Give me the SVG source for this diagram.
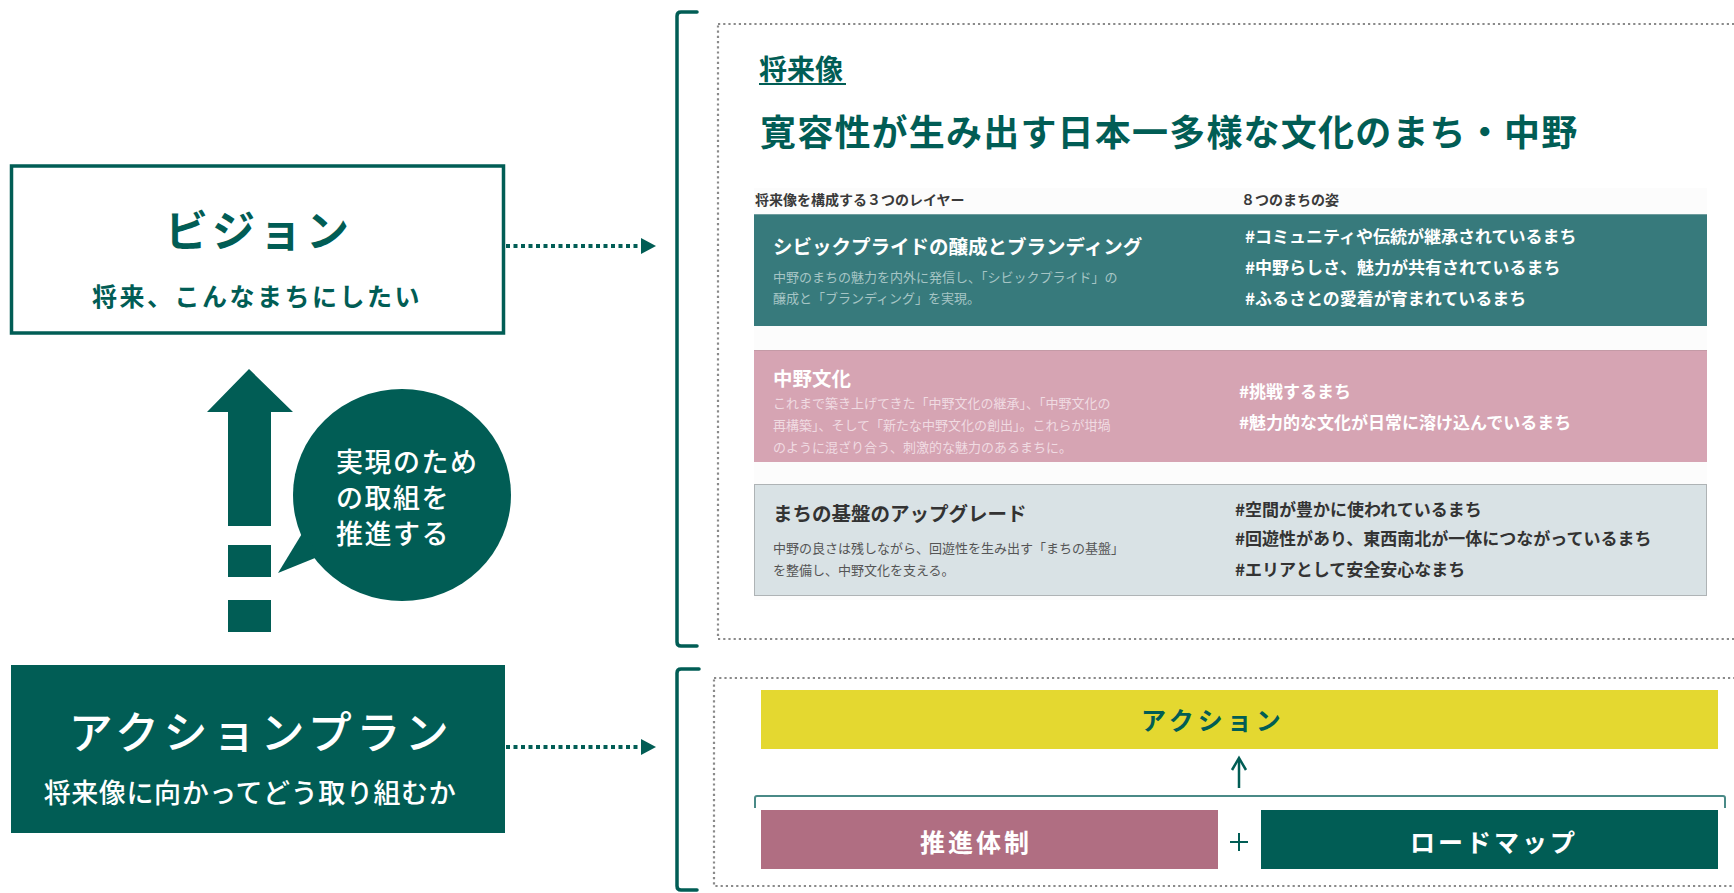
<svg xmlns="http://www.w3.org/2000/svg" width="1734" height="893" viewBox="0 0 1734 893">
<style>
text{font-family:"Noto Sans CJK JP","Noto Sans CJK SC",sans-serif;}
.teal{fill:#015d55;}
.w{fill:#ffffff;}
.b{font-weight:700;}
.m{font-weight:500;}
.dots{fill:none;stroke:#015d55;stroke-width:4;stroke-dasharray:4 3.5;}
.dbox{fill:none;stroke:#8a8a8a;stroke-width:2.2;stroke-dasharray:2.2 3;}
.brk{fill:none;stroke:#015d55;stroke-width:3.5;stroke-linecap:round;stroke-linejoin:round;}
.h{font-size:19.5px;font-weight:700;}
.d{font-size:13px;}
.tag{font-size:17px;font-weight:700;}
</style>
<rect width="1734" height="893" fill="#ffffff"/>

<g id="vision">
<rect x="11.5" y="166" width="492" height="167" fill="#ffffff" stroke="#015d55" stroke-width="3.5"/>
<text x="259" y="247" text-anchor="middle" class="teal b" font-size="43" letter-spacing="4">ビジョン</text>
<text x="257" y="306" text-anchor="middle" class="teal b" font-size="25" letter-spacing="2.5">将来、こんなまちにしたい</text>
</g>

<g id="action-plan">
<rect x="11" y="665" width="494" height="168" fill="#015d55"/>
<text x="261" y="749" text-anchor="middle" class="w m" font-size="44" letter-spacing="4.5">アクションプラン</text>
<text x="250" y="803" text-anchor="middle" class="w m" font-size="27" letter-spacing="0.6">将来像に向かってどう取り組むか</text>
</g>

<g id="up-arrow">
<polygon points="249,369 293,412 271,412 271,526 228,526 228,412 207,412" fill="#015d55"/>
<rect x="228" y="545" width="43" height="32" fill="#015d55"/>
<rect x="228" y="600" width="43" height="32" fill="#015d55"/>
</g>

<g id="bubble">
<ellipse cx="402" cy="495" rx="109" ry="106" fill="#015d55"/>
<polygon points="303,532 278,573 320,556" fill="#015d55"/>
<text x="336" y="472" class="w m" font-size="27" letter-spacing="1.5">実現のため</text>
<text x="336" y="508" class="w m" font-size="27" letter-spacing="1.5">の取組を</text>
<text x="336" y="544" class="w m" font-size="27" letter-spacing="1.5">推進する</text>
</g>

<g id="future-panel">
<path class="brk" d="M697,12 L681,12 Q677,12 677,16 L677,642 Q677,646 681,646 L697,646"/>
<rect class="dbox" x="718" y="24" width="1030" height="615"/>
<text x="759" y="80" class="teal b" font-size="28">将来像</text>
<line x1="759" y1="84" x2="846" y2="84" stroke="#015d55" stroke-width="2"/>
<text x="760" y="146" class="teal b" font-size="36" letter-spacing="1.2">寛容性が生み出す日本一多様な文化のまち・中野</text>
<rect x="754" y="188" width="953" height="412" fill="#fcfcfc"/>
<text x="755" y="205" font-size="14" font-weight="700" fill="#3a3a3a">将来像を構成する３つのレイヤー</text>
<text x="1241" y="205" font-size="14" font-weight="700" fill="#3a3a3a">８つのまちの姿</text>

<g id="layer-civic">
<rect x="754" y="214" width="953" height="112" fill="#377a7c"/>
<line x1="754" y1="214.5" x2="1707" y2="214.5" stroke="#6e9c9d" stroke-width="1"/>
<text x="773" y="254" class="w h">シビックプライドの醸成とブランディング</text>
<text x="773" y="282" class="d" fill="#a6c5c5">中野のまちの魅力を内外に発信し、「シビックプライド」の</text>
<text x="773" y="303" class="d" fill="#a6c5c5">醸成と「ブランディング」を実現。</text>
<text x="1245" y="243" class="w tag">#コミュニティや伝統が継承されているまち</text>
<text x="1245" y="274" class="w tag">#中野らしさ、魅力が共有されているまち</text>
<text x="1245" y="305" class="w tag">#ふるさとの愛着が育まれているまち</text>
</g>

<g id="layer-culture">
<rect x="754" y="350" width="953" height="112" fill="#d6a4b3"/>
<line x1="754" y1="350.5" x2="1707" y2="350.5" stroke="#c49aa6" stroke-width="1"/>
<text x="773" y="386" class="w h">中野文化</text>
<text x="773" y="408" class="d" fill="#f0dbe2">これまで築き上げてきた「中野文化の継承」、「中野文化の</text>
<text x="773" y="430" class="d" fill="#f0dbe2">再構築」、そして「新たな中野文化の創出」。これらが坩堝</text>
<text x="773" y="452" class="d" fill="#f0dbe2">のように混ざり合う、刺激的な魅力のあるまちに。</text>
<text x="1239" y="398" class="w tag">#挑戦するまち</text>
<text x="1239" y="429" class="w tag">#魅力的な文化が日常に溶け込んでいるまち</text>
</g>

<g id="layer-base">
<rect x="754.5" y="484.5" width="952" height="111" fill="#d9e2e5" stroke="#aeb3b5" stroke-width="1"/>
<text x="773" y="521" class="h" fill="#333333">まちの基盤のアップグレード</text>
<text x="773" y="553" class="d" fill="#555555">中野の良さは残しながら、回遊性を生み出す「まちの基盤」</text>
<text x="773" y="575" class="d" fill="#555555">を整備し、中野文化を支える。</text>
<text x="1235" y="516" class="tag" fill="#333333">#空間が豊かに使われているまち</text>
<text x="1235" y="545" class="tag" fill="#333333">#回遊性があり、東西南北が一体につながっているまち</text>
<text x="1235" y="576" class="tag" fill="#333333">#エリアとして安全安心なまち</text>
</g>
</g>

<g id="action-panel">
<path class="brk" d="M699,669 L681,669 Q677,669 677,673 L677,886 Q677,890 681,890 L697,890"/>
<rect class="dbox" x="714" y="678" width="1034" height="208"/>
<g id="action">
<rect x="761" y="690" width="957" height="59" fill="#e4d830"/>
<text x="1213" y="730" text-anchor="middle" class="teal b" font-size="25" letter-spacing="4">アクション</text>
</g>
<g id="promotion">
<rect x="761" y="810" width="457" height="59" fill="#b06e82"/>
<text x="976" y="852" text-anchor="middle" class="w b" font-size="25" letter-spacing="3">推進体制</text>
</g>
<g id="roadmap">
<rect x="1261" y="810" width="457" height="59" fill="#015d55"/>
<text x="1494" y="852" text-anchor="middle" class="w b" font-size="25" letter-spacing="3">ロードマップ</text>
</g>
<line x1="1230" y1="842" x2="1248" y2="842" stroke="#015d55" stroke-width="2"/>
<line x1="1239" y1="833" x2="1239" y2="851" stroke="#015d55" stroke-width="2"/>
</g>

<g id="connectors">
<line class="dots" x1="506" y1="246" x2="641" y2="246"/>
<polygon points="641,238 656,246 641,254" fill="#015d55"/>
<line class="dots" x1="506" y1="747" x2="641" y2="747"/>
<polygon points="641,739 656,747 641,755" fill="#015d55"/>
<line x1="1239" y1="788" x2="1239" y2="759" stroke="#015d55" stroke-width="2.5"/>
<polyline points="1232,770 1239,758 1246,770" fill="none" stroke="#015d55" stroke-width="2.5"/>
<path d="M755,808 L755,798 Q755,796 757,796 L1723,796 Q1725,796 1725,798 L1725,808" fill="none" stroke="#4a8a87" stroke-width="2"/>
</g>
</svg>
